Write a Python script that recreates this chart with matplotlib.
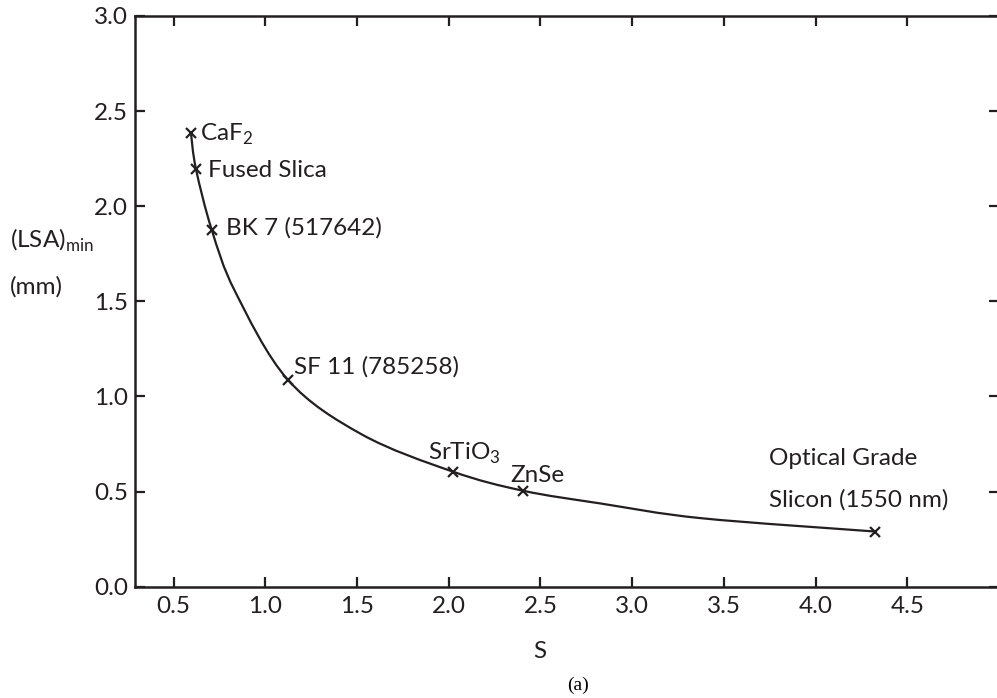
import matplotlib
matplotlib.use("Agg")
import matplotlib.pyplot as plt
from matplotlib.path import Path
from matplotlib.patches import PathPatch

# material points: shape factor S vs minimum LSA (mm)
materials = ["CaF$_2$", "Fused Slica", "BK 7 (517642)", "SF 11 (785258)",
             "SrTiO$_3$", "ZnSe", "Optical Grade\nSlicon (1550 nm)"]
s_vals = [0.595, 0.622, 0.708, 1.123, 2.022, 2.407, 4.323]
lsa_vals = [2.386, 2.197, 1.877, 1.088, 0.605, 0.504, 0.290]

# points
curve_s = [0.595, 0.622, 0.708, 0.835, 1.123, 1.527, 2.022, 2.407, 2.83,
           3.376, 4.323]
curve_lsa = [2.386, 2.197, 1.877, 1.553, 1.088, 0.800, 0.605, 0.504, 0.437,
             0.360, 0.290]

xticks = [0.5, 1.0, 1.5, 2.0, 2.5, 3.0, 3.5, 4.0, 4.5]
yticks = [0.0, 0.5, 1.0, 1.5, 2.0, 2.5, 3.0]

ink = "#231f20"
fs = 17.5
plt.rcParams['font.family'] = ['Lato', 'DejaVu Sans']
plt.rcParams['mathtext.fontset'] = 'custom'
plt.rcParams['mathtext.rm'] = 'Lato'

fig = plt.figure(figsize=(9.97, 6.98), dpi=100)
ax = fig.add_axes([0.1354, 0.1595, 0.8666, 0.8176])

ax.set_xlim(0.29, 5.0)
ax.set_ylim(0.0, 3.0)

# smooth curve through the traced points (Catmull-Rom as cubic Bezier in pixel space)
pts = ax.transData.transform(list(zip(curve_s, curve_lsa)))
verts = [tuple(pts[0])]
codes = [Path.MOVETO]
n = len(pts)
for i in range(n - 1):
    p0 = pts[max(i - 1, 0)]
    p1 = pts[i]
    p2 = pts[i + 1]
    p3 = pts[min(i + 2, n - 1)]
    c1 = p1 + (p2 - p0) / 6.0
    c2 = p2 - (p3 - p1) / 6.0
    verts += [tuple(c1), tuple(c2), tuple(p2)]
    codes += [Path.CURVE4] * 3
curve = PathPatch(Path(verts, codes), facecolor="none", edgecolor=ink, lw=1.6,
                  transform=None)
ax.add_patch(curve)
ax.plot(s_vals, lsa_vals, ls="none", marker="x", ms=7, mew=1.6, color=ink)

# label offsets in points (dx, dy) from the marker, to the text baseline
offsets = [(6.5, -5.5), (8.6, -5.8), (10, -3.5), (4.3, 4.2), (-17.8, 8.4),
           (-9.1, 6.0), (-75.9, 18.0)]
for name, sx, ly, (dx, dy) in zip(materials, s_vals, lsa_vals, offsets):
    lines = name.split("\n")
    for k, line in enumerate(lines):
        ax.annotate(line, (sx, ly),
                    xytext=(dx, dy + 30 * (len(lines) - 1 - k)),
                    textcoords="offset points", ha="left", va="baseline",
                    fontsize=fs, color=ink)

ax.set_xticks(xticks)
ax.set_yticks(yticks)
ax.set_xticklabels([f"{v:.1f}" for v in xticks])
ax.set_yticklabels([f"{v:.1f}" for v in yticks])
ax.tick_params(direction="in", length=7, width=1.6, colors=ink, labelsize=fs,
               top=True, right=True, pad=5)
ax.tick_params(axis="x", pad=7)
for sp in ax.spines.values():
    sp.set_linewidth(1.8)
    sp.set_color(ink)

fig.text(0.01, 0.656, "(LSA)$_{\\mathregular{min}}$", fontsize=fs, color=ink,
         va="center", ha="left")
fig.text(0.01, 0.589, "(mm)", fontsize=fs, color=ink, va="center", ha="left")
fig.text(0.5416, 0.0663, "S", fontsize=fs, color=ink, va="center", ha="center")
fig.text(0.5797, 0.0186, "(a)", fontsize=14, color="black", va="center",
         ha="center", family=["Liberation Serif", "DejaVu Serif"])

fig.savefig("out.png", dpi=100)
